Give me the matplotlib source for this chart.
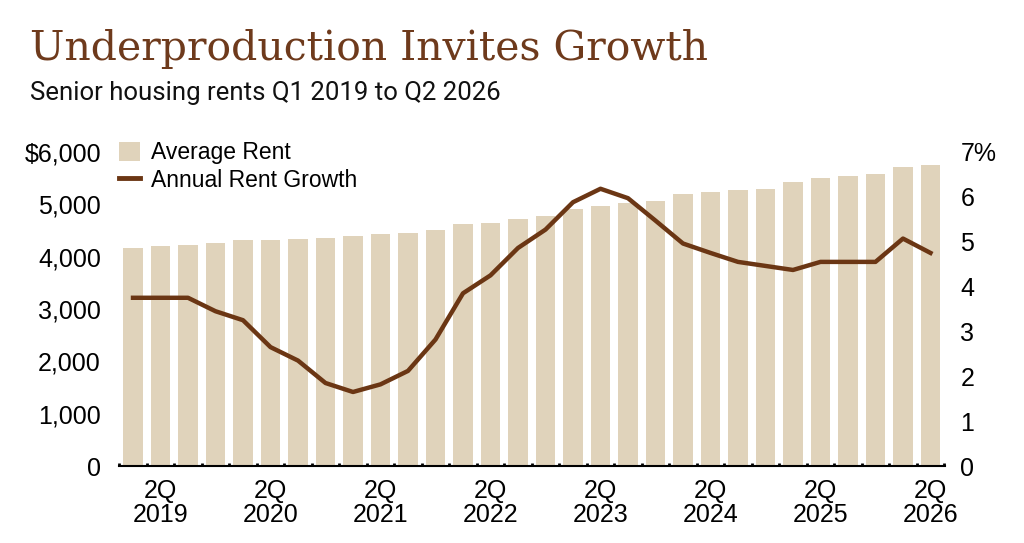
import matplotlib
matplotlib.use("Agg")
import matplotlib.pyplot as plt
from matplotlib import font_manager
from matplotlib.patches import Patch
from matplotlib.lines import Line2D

# Q1 2019 .. Q2 2026
quarters = [f"{q}Q {y}" for y in range(2019, 2027) for q in range(1, 5)][:30]
avg_rent = [4160, 4195, 4225, 4260, 4315, 4325, 4345, 4355, 4400, 4430,
            4460, 4505, 4615, 4650, 4720, 4780, 4910, 4970, 5020, 5065,
            5190, 5240, 5270, 5300, 5425, 5495, 5540, 5575, 5705, 5760]
rent_growth = [3.75, 3.75, 3.75, 3.45, 3.25, 2.65, 2.35, 1.85, 1.65, 1.82,
               2.12, 2.82, 3.85, 4.25, 4.86, 5.27, 5.88, 6.18, 5.97, 5.47,
               4.96, 4.75, 4.55, 4.46, 4.37, 4.55, 4.55, 4.55, 5.07, 4.75]
left_ticks = [0, 1000, 2000, 3000, 4000, 5000, 6000]
left_labels = ["0", "1,000", "2,000", "3,000", "4,000", "5,000", "$6,000"]
right_ticks = [0, 1, 2, 3, 4, 5, 6, 7]
right_labels = ["0", "1", "2", "3", "4", "5", "6", "7%"]

bar_color = "#e0d3bb"
line_color = "#6b3614"
title_color = "#6e3a1c"

names = {f.name for f in font_manager.fontManager.ttflist}
narrow = "Liberation Sans Narrow" if "Liberation Sans Narrow" in names else "Roboto"
sans = "Liberation Sans"

fig = plt.figure(figsize=(10.24, 5.43), dpi=100)
ax = fig.add_axes([0.1162, 0.1418, 0.8067, 0.5783])
x = list(range(len(avg_rent)))
ax.bar(x, avg_rent, width=0.72, color=bar_color, zorder=2)
ax.set_xlim(-0.51, 29.53)
ax.set_ylim(0, 6000)
ax.set_yticks(left_ticks)
ax.set_yticklabels(left_labels, family=sans, fontsize=18)
ax.tick_params(axis="y", length=0, pad=13)

tick_pos = [i for i, q in enumerate(quarters) if q.startswith("2Q")]
ax.set_xticks(tick_pos)
ax.set_xticklabels([quarters[i].replace(" ", "\n") for i in tick_pos],
                   family=sans, fontsize=18, linespacing=1.05)
ax.tick_params(axis="x", length=0, pad=9)
ax.set_xticks([i + 0.5 for i in range(-1, 30)], minor=True)
ax.tick_params(axis="x", which="minor", length=2.5, width=2, direction="in", color="black")
for s in ["top", "left", "right"]:
    ax.spines[s].set_visible(False)
ax.spines["bottom"].set_linewidth(1.5)

ax2 = ax.twinx()
ax2.plot(x, rent_growth, color=line_color, lw=3.2, zorder=3)
ax2.set_ylim(0, 7)
ax2.set_yticks(right_ticks)
ax2.set_yticklabels(right_labels, family=sans, fontsize=18)
ax2.tick_params(axis="y", length=0, pad=11)
for s in ["top", "left", "right", "bottom"]:
    ax2.spines[s].set_visible(False)

handles = [Patch(facecolor=bar_color, edgecolor="none"),
           Line2D([0], [0], color=line_color, lw=3.5)]
leg = ax.legend(handles, ["Average Rent", "Annual Rent Growth"], loc="upper left",
                bbox_to_anchor=(0.0, 1.035), frameon=False, borderpad=0, borderaxespad=0,
                handlelength=0.9, handleheight=0.9, handletextpad=0.5, labelspacing=0.22,
                prop={"family": sans, "size": 16.5})

fig.text(0.029, 0.89, "Underproduction Invites Growth", family="DejaVu Serif",
         fontsize=29.5, color=title_color, va="baseline")
fig.text(0.029, 0.815, "Senior housing rents Q1 2019 to Q2 2026", family=narrow,
         fontsize=18.5, color="#111111", va="baseline")

fig.savefig("out.png", dpi=100, facecolor="white")
